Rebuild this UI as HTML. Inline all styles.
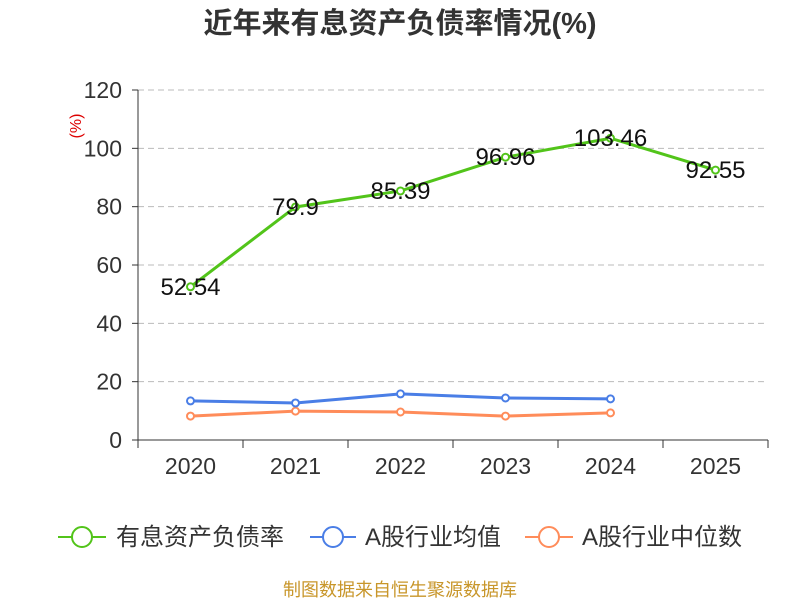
<!DOCTYPE html>
<html><head><meta charset="utf-8"><style>
body{margin:0;background:#fff;font-family:"Liberation Sans","Noto Sans CJK SC",sans-serif}
</style></head><body>
<svg width="800" height="600" xmlns="http://www.w3.org/2000/svg" id="chart" font-family="Liberation Sans, Noto Sans CJK SC, sans-serif">
<text x="400" y="33" text-anchor="middle" font-size="29" font-weight="bold" fill="#333">近年来有息资产负债率情况(%)</text>
<text x="81" y="126" text-anchor="middle" font-size="16" fill="#d00" transform="rotate(-90 81 126)">(%)</text>
<g id="grid"></g><g id="axes"></g><g id="series"></g>
<g>
<g><line x1="58" y1="537" x2="106" y2="537" stroke="#52c41a" stroke-width="2"/><circle cx="82" cy="537" r="10" fill="#fff" stroke="#52c41a" stroke-width="2"/><text x="116" y="545" font-size="24" fill="#333">有息资产负债率</text></g>
<g><line x1="310" y1="537" x2="356" y2="537" stroke="#4a7ee6" stroke-width="2"/><circle cx="333" cy="537" r="10" fill="#fff" stroke="#4a7ee6" stroke-width="2"/><text x="365" y="545" font-size="24" fill="#333">A股行业均值</text></g>
<g><line x1="525" y1="537" x2="573" y2="537" stroke="#ff8c5a" stroke-width="2"/><circle cx="549" cy="537" r="10" fill="#fff" stroke="#ff8c5a" stroke-width="2"/><text x="582" y="545" font-size="24" fill="#333">A股行业中位数</text></g>
</g>
<text x="400" y="596" text-anchor="middle" font-size="18" fill="#c8962a">制图数据来自恒生聚源数据库</text>
</svg>
<script>
const categories=["2020","2021","2022","2023","2024","2025"];
const debtRatio=[52.54,79.9,85.39,96.96,103.46,92.55];
const industryMean=[13.4,12.7,15.8,14.4,14.1];
const industryMedian=[8.2,9.9,9.6,8.2,9.3];
const yTicks=[0,20,40,60,80,100,120];
const NS="http://www.w3.org/2000/svg";
const x0=138,x1=768,yb=440,yt=90,ymax=120;
const band=(x1-x0)/categories.length;
const X=i=>x0+band*(i+0.5);
const Y=v=>yb-(v/ymax)*(yb-yt);
function mk(tag,attrs,parent,txt){const e=document.createElementNS(NS,tag);for(const k in attrs)e.setAttribute(k,attrs[k]);if(txt!==undefined)e.textContent=txt;parent.appendChild(e);return e;}
const grid=document.getElementById('grid'),axes=document.getElementById('axes'),ser=document.getElementById('series');
yTicks.forEach(t=>{
 if(t>0){const g=mk('line',{x1:x0,x2:x1,y1:Y(t),y2:Y(t),stroke:'#bbb','stroke-dasharray':'6,4'},grid);
 
 }
 const l=mk('text',{x:122,y:Y(t)+8,'text-anchor':'end','font-size':23,fill:'#333'},axes,t);
 
 
 mk('line',{x1:x0-6,x2:x0,y1:Y(t),y2:Y(t),stroke:'#333'},axes);
});
const ya=mk('line',{x1:x0,x2:x0,y1:yt,y2:yb,stroke:'#333'},axes);


const xa=mk('line',{x1:x0,x2:x1,y1:yb,y2:yb,stroke:'#333'},axes);


for(let i=0;i<=categories.length;i++)mk('line',{x1:x0+band*i,x2:x0+band*i,y1:yb,y2:yb+8,stroke:'#333'},axes);
categories.forEach((c,i)=>{const t=mk('text',{x:X(i),y:474,'text-anchor':'middle','font-size':23,fill:'#333'},axes,c);
 
 });
function line(data,color,name,labels){
 const g=mk('g',{},ser);
 
 
 mk('polyline',{points:data.map((v,i)=>X(i)+','+Y(v)).join(' '),fill:'none',stroke:color,'stroke-width':3},g);
 data.forEach((v,i)=>{const c=mk('circle',{cx:X(i),cy:Y(v),r:3.5,fill:'#fff',stroke:color,'stroke-width':2},g);
  
  
  if(labels){const t=mk('text',{x:X(i),y:Y(v)+8,'text-anchor':'middle','font-size':24,fill:'#111'},g,v);
  
  }});
}
line(industryMedian,'#ff8c5a','industry-median-line',false);
line(industryMean,'#4a7ee6','industry-mean-line',false);
line(debtRatio,'#52c41a','debt-ratio-line',true);
</script>
</body></html>
